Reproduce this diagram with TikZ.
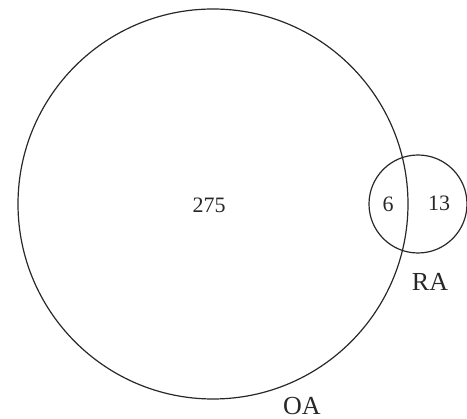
\documentclass[tikz,border=0pt]{standalone}
\usepackage{fontspec}
\setmainfont{Liberation Serif}
\usepackage{tikz}
\usetikzlibrary{positioning}
\definecolor{inkgray}{RGB}{40,40,40}

\begin{document}
\begin{tikzpicture}[x=1pt, y=-1pt, every node/.style={text=inkgray},
  setcircle/.style={draw=inkgray, line width=1.2pt, circle, inner sep=0pt},
  count/.style={font=\fontsize{22}{24}\selectfont},
  setlabel/.style={font=\fontsize{26}{28}\selectfont}]
\useasboundingbox (0,0) rectangle (467,419);
\node[setcircle, minimum size=390] (oa) at (213,204) {};
\node[setcircle, minimum size=98] (ra) at (418,204) {};
\node[count] (nOA) at (209,205) {275};
\node[count] (nBoth) at (388,204) {6};
\node[count] (nRA) at (439,203) {13};
\node[setlabel] (lRA) at (430,282) {RA};
\node[setlabel] (lOA) at (302,406) {OA};
\end{tikzpicture}
\end{document}
